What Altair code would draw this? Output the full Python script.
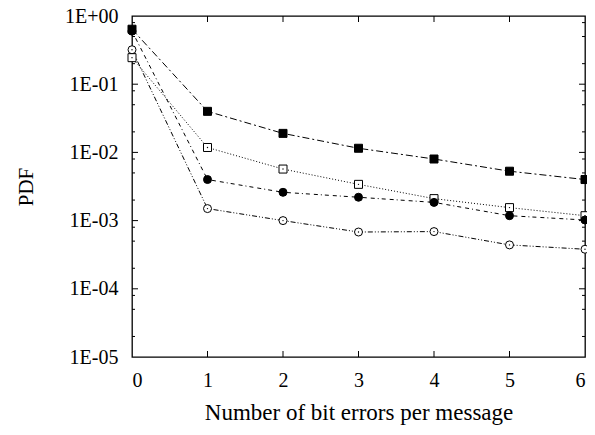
import altair as alt
import pandas as pd

# ---- data ----
x_vals = [0, 1, 2, 3, 4, 5, 6]
series_names = ["Dist-16PPM", "Dist-2PPM", "Comm-16PPM", "Comm-2PPM"]
dist16 = [0.32, 0.0015, 0.0010, 0.00068, 0.00069, 0.00044, 0.00038]
dist2 = [0.245, 0.0118, 0.0057, 0.0034, 0.0021, 0.00155, 0.00118]
comm16 = [0.60, 0.0040, 0.0026, 0.0022, 0.00185, 0.00118, 0.00102]
comm2 = [0.64, 0.040, 0.019, 0.0115, 0.0080, 0.0053, 0.0040]

x_ticks = [1, 2, 3, 4, 5]
y_major = [1e-5, 1e-4, 1e-3, 1e-2, 1e-1, 1.0]
y_minor_mult = [2, 5, 8]

rows = []
for name, vals in zip(series_names, [dist16, dist2, comm16, comm2]):
    for xv, yv in zip(x_vals, vals):
        rows.append({"x": xv, "y": yv, "series": name, "line": name})
df = pd.DataFrame(rows)

minor = [m * d for d in y_major[:-1] for m in y_minor_mult]
df_xt = pd.DataFrame({"x": x_ticks})
df_ymaj = pd.DataFrame({"y": y_major[1:-1]})
df_ymin = pd.DataFrame({"y": minor})

W, H = 453, 341
FONT = "Liberation Serif"

xs = alt.Scale(domain=[0, 6], nice=False, zero=False)
ys = alt.Scale(type="log", domain=[1e-5, 1], nice=False)

X = alt.X("x:Q", scale=xs,
          axis=alt.Axis(title="Number of bit errors per message", values=x_vals,
                        ticks=False, domain=False, grid=False, labelPadding=13,
                        titlePadding=11, format="d", titleFontSize=23))
Y = alt.Y("y:Q", scale=ys,
          axis=alt.Axis(title="PDF", values=y_major, ticks=False, domain=False,
                        grid=False, labelPadding=14, titlePadding=28, titleFontSize=21,
                        labelExpr="datum.value >= 1 ? '1E+00' : '1E-0' + round(-log(datum.value)/LN10)"))

base = alt.Chart(df)

lines = base.mark_line(color="black", strokeWidth=1).encode(
    x=X, y=Y,
    detail="line:N",
    strokeDash=alt.StrokeDash("line:N", legend=None,
                              scale=alt.Scale(domain=series_names,
                                              range=[[5, 2, 1, 2, 1, 2], [1, 2], [4, 4, 4, 3, 1, 3], [7, 3, 2, 3]])),
)

leg = alt.Legend(orient="top-right", offset=14, title=None,
                 labelFont=FONT, labelFontSize=19, labelColor="black")

points = base.mark_point(filled=True, size=64, stroke="black", strokeWidth=1, opacity=1).encode(
    x="x:Q", y="y:Q",
    shape=alt.Shape("series:N", legend=leg,
                    scale=alt.Scale(domain=series_names,
                                    range=["circle", "square", "circle", "square"])),
    color=alt.Color("series:N", legend=leg,
                    scale=alt.Scale(domain=series_names,
                                    range=["white", "white", "black", "black"])),
)

dots = base.transform_filter(
    alt.FieldOneOfPredicate(field="series", oneOf=series_names[:2])
).mark_point(filled=True, size=2, fill="black", opacity=1).encode(x="x:Q", y="y:Q")

tb = alt.Chart(df_xt).mark_rule(color="black", strokeWidth=1).encode(
    x=alt.X("x:Q", scale=xs), y=alt.value(H), y2=alt.value(H - 6))
tt = alt.Chart(df_xt).mark_rule(color="black", strokeWidth=1).encode(
    x=alt.X("x:Q", scale=xs), y=alt.value(0), y2=alt.value(6))
yl = alt.Chart(df_ymaj).mark_rule(color="black", strokeWidth=1).encode(
    y=alt.Y("y:Q", scale=ys), x=alt.value(0), x2=alt.value(6))
yr = alt.Chart(df_ymaj).mark_rule(color="black", strokeWidth=1).encode(
    y=alt.Y("y:Q", scale=ys), x=alt.value(W - 6), x2=alt.value(W))
yml = alt.Chart(df_ymin).mark_rule(color="black", strokeWidth=1).encode(
    y=alt.Y("y:Q", scale=ys), x=alt.value(0), x2=alt.value(3))
ymr = alt.Chart(df_ymin).mark_rule(color="black", strokeWidth=1).encode(
    y=alt.Y("y:Q", scale=ys), x=alt.value(W - 3), x2=alt.value(W))

chart = alt.layer(lines, points, dots, tb, tt, yl, yr, yml, ymr).properties(
    width=W, height=H,
    background="white",
    autosize=alt.AutoSizeParams(type="none"),
    padding={"left": 124, "top": 8, "right": 2, "bottom": 70},
).configure_view(stroke="black", strokeWidth=1.3).configure_axis(
    labelFont=FONT, titleFont=FONT, labelFontSize=20, titleFontSize=22,
    labelColor="black", titleColor="black", titleFontWeight="normal"
)

chart.save("out.html", embed_options={"renderer": "svg", "actions": False})
